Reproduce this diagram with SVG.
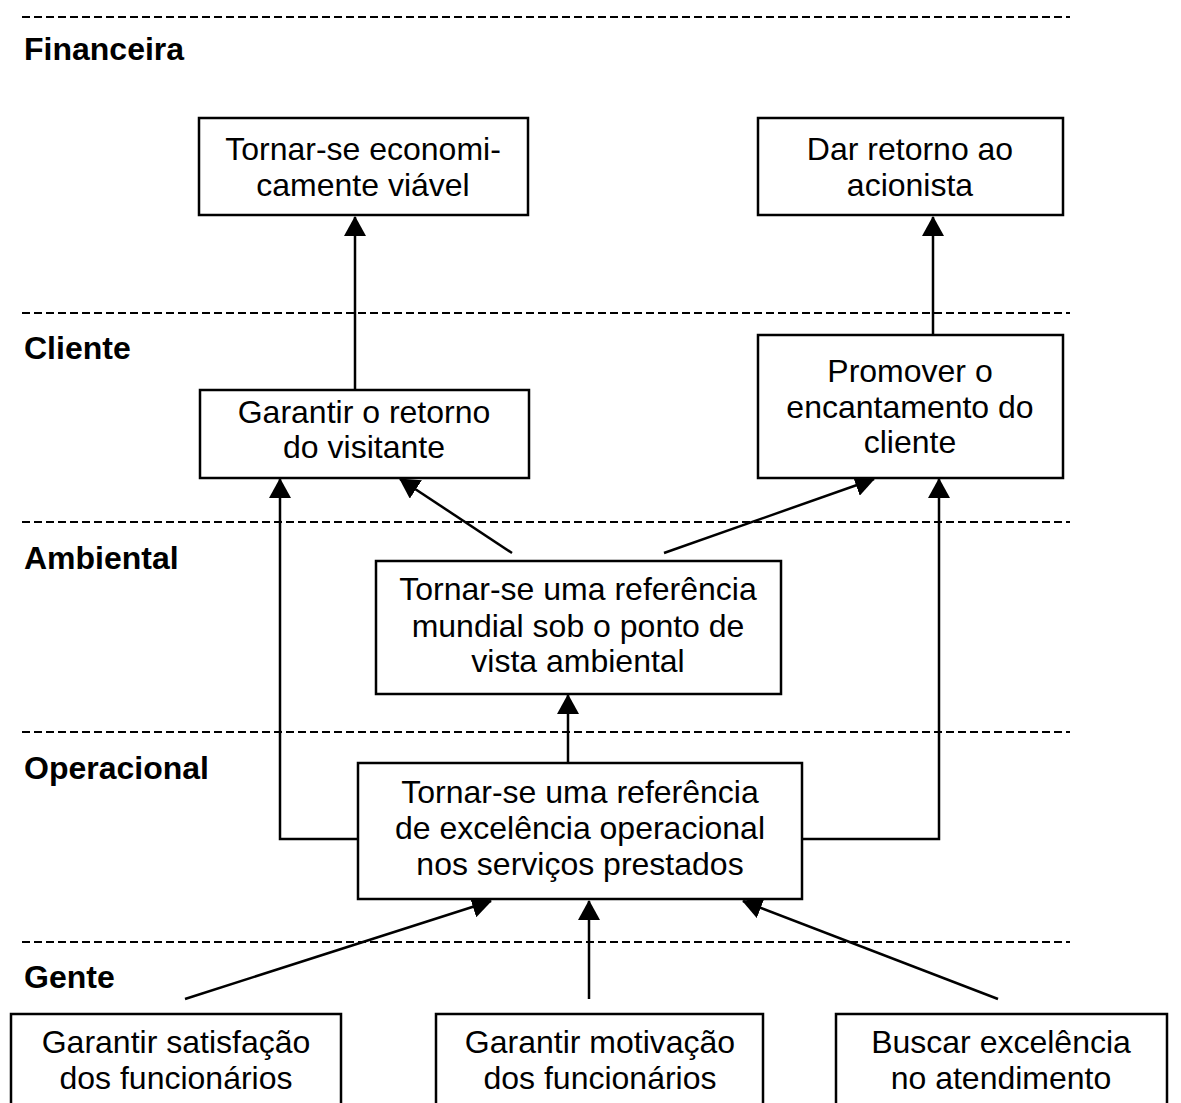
<svg xmlns="http://www.w3.org/2000/svg" width="1181" height="1103" viewBox="0 0 1181 1103">
  <style>
    .bg { fill: #ffffff; }
    .sep { stroke: #000; stroke-width: 2; stroke-dasharray: 8 4; fill: none; }
    .layer { font-family: "Liberation Sans", Arial, sans-serif; font-weight: bold; font-size: 32px; fill: #000; }
    .box { fill: #fff; stroke: #000; stroke-width: 2.5; }
    .txt { font-family: "Liberation Sans", Arial, sans-serif; font-size: 32px; fill: #000; text-anchor: middle; }
    .edge { stroke: #000; stroke-width: 2.5; fill: none; marker-end: url(#arrow); }
  </style>
  <defs>
    <marker id="arrow" markerUnits="userSpaceOnUse" viewBox="0 0 20 22" refX="19" refY="11" markerWidth="20" markerHeight="22" orient="auto">
      <path d="M0,0 L20,11 L0,22 Z" fill="#000"/>
    </marker>
  </defs>

  <rect class="bg" x="0" y="0" width="1181" height="1103"/>

  <!-- perspective separators -->
  <g id="separators">
    <line class="sep" x1="22" y1="17" x2="1070" y2="17"/>
    <line class="sep" x1="22" y1="313" x2="1070" y2="313"/>
    <line class="sep" x1="22" y1="522" x2="1070" y2="522"/>
    <line class="sep" x1="22" y1="732" x2="1070" y2="732"/>
    <line class="sep" x1="22" y1="942" x2="1070" y2="942"/>
  </g>

  <!-- perspective names -->
  <g id="layer-labels">
    <text class="layer" x="24" y="60">Financeira</text>
    <text class="layer" x="24" y="359">Cliente</text>
    <text class="layer" x="24" y="569">Ambiental</text>
    <text class="layer" x="24" y="779">Operacional</text>
    <text class="layer" x="24" y="988">Gente</text>
  </g>

  <!-- cause-and-effect links -->
  <g id="connectors">
    <line class="edge" x1="355" y1="390" x2="355" y2="217"/>
    <line class="edge" x1="933" y1="335" x2="933" y2="217"/>
    <line class="edge" x1="512" y1="553" x2="400" y2="479"/>
    <line class="edge" x1="664" y1="553" x2="874" y2="479"/>
    <polyline class="edge" points="358,839 280,839 280,479"/>
    <polyline class="edge" points="802,839 939,839 939,479"/>
    <line class="edge" x1="568" y1="763" x2="568" y2="695"/>
    <line class="edge" x1="185" y1="999" x2="491" y2="901"/>
    <line class="edge" x1="589" y1="999" x2="589" y2="901"/>
    <line class="edge" x1="998" y1="999" x2="743" y2="901"/>
  </g>

  <g id="economicamente-viavel">
    <rect class="box" x="199" y="118" width="329" height="97"/>
    <text class="txt" x="363" y="160">Tornar-se economi-</text>
    <text class="txt" x="363" y="196">camente viável</text>
  </g>

  <g id="retorno-acionista">
    <rect class="box" x="758" y="118" width="305" height="97"/>
    <text class="txt" x="910" y="160">Dar retorno ao</text>
    <text class="txt" x="910" y="196">acionista</text>
  </g>

  <g id="retorno-visitante">
    <rect class="box" x="200" y="390" width="329" height="88"/>
    <text class="txt" x="364" y="423">Garantir o retorno</text>
    <text class="txt" x="364" y="458">do visitante</text>
  </g>

  <g id="encantamento-cliente">
    <rect class="box" x="758" y="335" width="305" height="143"/>
    <text class="txt" x="910" y="382">Promover o</text>
    <text class="txt" x="910" y="418">encantamento do</text>
    <text class="txt" x="910" y="453">cliente</text>
  </g>

  <g id="referencia-ambiental">
    <rect class="box" x="376" y="561" width="405" height="133"/>
    <text class="txt" x="578" y="600">Tornar-se uma referência</text>
    <text class="txt" x="578" y="637">mundial sob o ponto de</text>
    <text class="txt" x="578" y="672">vista ambiental</text>
  </g>

  <g id="excelencia-operacional">
    <rect class="box" x="358" y="763" width="444" height="136"/>
    <text class="txt" x="580" y="803">Tornar-se uma referência</text>
    <text class="txt" x="580" y="839">de excelência operacional</text>
    <text class="txt" x="580" y="875">nos serviços prestados</text>
  </g>

  <g id="satisfacao-funcionarios">
    <rect class="box" x="11" y="1014" width="330" height="100"/>
    <text class="txt" x="176" y="1053">Garantir satisfação</text>
    <text class="txt" x="176" y="1089">dos funcionários</text>
  </g>

  <g id="motivacao-funcionarios">
    <rect class="box" x="436" y="1014" width="327" height="100"/>
    <text class="txt" x="600" y="1053">Garantir motivação</text>
    <text class="txt" x="600" y="1089">dos funcionários</text>
  </g>

  <g id="excelencia-atendimento">
    <rect class="box" x="836" y="1014" width="331" height="100"/>
    <text class="txt" x="1001" y="1053">Buscar excelência</text>
    <text class="txt" x="1001" y="1089">no atendimento</text>
  </g>
</svg>
